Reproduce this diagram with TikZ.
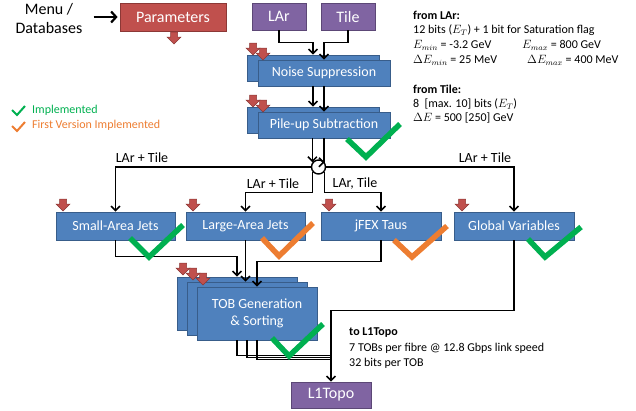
\documentclass[tikz,border=0pt]{standalone}
\usepackage{fontspec}
\setmainfont{Carlito}
\usetikzlibrary{arrows.meta,calc}
\definecolor{boxblue}{HTML}{4F81BD}
\definecolor{boxblueb}{HTML}{385D8A}
\definecolor{boxred}{HTML}{C0504D}
\definecolor{boxredb}{HTML}{8C3836}
\definecolor{boxpurp}{HTML}{8064A2}
\definecolor{boxpurpb}{HTML}{5C4776}
\definecolor{okgreen}{HTML}{00B050}
\definecolor{okorange}{HTML}{ED7D31}
\begin{document}
\begin{tikzpicture}[x=1pt,y=-1pt,
 bluebox/.style={draw=boxblueb, fill=boxblue, line width=0.8pt, text=white, font=\fontsize{14}{17}\selectfont, inner sep=0pt, align=center},
 redbox/.style={draw=boxredb, fill=boxred, line width=0.8pt, text=white, font=\fontsize{16}{19}\selectfont, inner sep=0pt},
 purpbox/.style={draw=boxpurpb, fill=boxpurp, line width=0.8pt, text=white, font=\fontsize{16}{19}\selectfont, inner sep=0pt},
 conn/.style={draw=black, line width=1.5pt, -{Straight Barb[length=4.5pt,width=9pt]}},
 plain/.style={draw=black, line width=1.5pt},
 chk/.style={line width=5.5pt, line cap=butt, line join=miter},
 lbl/.style={font=\fontsize{14}{17}\selectfont, inner sep=0pt},
 info/.style={font=\fontsize{12}{14}\selectfont, anchor=west, inner sep=0pt},
 redarrow/.pic={\filldraw[fill=boxred, draw=boxredb, line width=0.5pt] (-3.5,0) -- (3.5,0) -- (3.5,5) -- (7,5) -- (0,12) -- (-7,5) -- (-3.5,5) -- cycle;}
]
\useasboundingbox (0,0) rectangle (636,410);

% menu
\node[align=center, font=\fontsize{16}{19}\selectfont, inner sep=0pt] (menu) at (49,19) {Menu /\\Databases};
\node[redbox, minimum width=106pt, minimum height=28pt] (params) at (173,17) {Parameters};
\draw[line width=2.2pt, -{Straight Barb[length=5pt,width=11pt]}, shorten >=2pt] ([xshift=11pt]menu.east |- params.west) -- (params.west);

% sources
\node[purpbox, minimum width=54pt, minimum height=27pt] (lar) at (279,16.5) {LAr};
\node[purpbox, minimum width=54pt, minimum height=27pt] (tile) at (348,16.5) {Tile};

% processing stacks
\node[bluebox, minimum width=132pt, minimum height=26pt] (noiseB) at (313,68) {};
\node[bluebox, minimum width=132pt, minimum height=26pt] (noise) at (324,73) {Noise Suppression};
\node[bluebox, minimum width=132pt, minimum height=26pt] (pileupB) at (313,120) {};
\node[bluebox, minimum width=132pt, minimum height=26pt] (pileup) at (324,125) {Pile-up Subtraction};
\node[draw, circle, fill=white, line width=1.4pt, minimum size=14pt, inner sep=0pt] (circ) at (318.5,167) {};

% algorithms
\node[bluebox, minimum width=119pt, minimum height=28pt] (saj) at (115.5,226) {Small-Area Jets};
\node[bluebox, minimum width=119pt, minimum height=28pt] (laj) at (245.5,226) {Large-Area Jets};
\node[bluebox, minimum width=120pt, minimum height=28pt] (jfex) at (381,226) {jFEX Taus};
\node[bluebox, minimum width=120pt, minimum height=28pt] (glob) at (514,226) {Global Variables};

% TOB stack
\node[bluebox, minimum width=120pt, minimum height=53pt] (tobB) at (237,303.5) {};
\node[bluebox, minimum width=120pt, minimum height=53pt] (tobM) at (247,308.5) {};
\node[bluebox, minimum width=120pt, minimum height=53pt] (tob) at (257,313.5) {TOB Generation\\\& Sorting};

\node[purpbox, minimum width=80pt, minimum height=26pt] (l1topo) at (331,395) {L1Topo};

% connectors
\draw[conn] (lar.south) -- ++(0,12) -| (noiseB.north);
\draw[conn] (tile.south) -- ++(0,12) -| (noise.north);
\draw[conn] (noiseB.south |- noise.south) -- (pileupB.north);
\draw[conn] (noise.south) -- (pileup.north);
\draw[conn] (circ.142 |- pileup.south) -- (circ.142);
\draw[conn] (pileup.south) -- (pileup.south |- circ.38) -- (circ.38);
\draw[conn] (circ.west) -| (saj.north);
\draw[conn] (circ.east) -| (glob.north);
\draw[conn] (circ.218) |- ([yshift=19pt]laj.north) -- (laj.north);
\draw[conn] (circ.322) |- ([yshift=19pt]jfex.north) -- (jfex.north);
\draw[conn] (saj.south) |- ([yshift=20pt]tobB.north) -- (tobB.north);
\draw[conn] (laj.south) -- (laj.south |- tobM.north);
\draw[conn] (jfex.south) |- ([yshift=25pt]tob.north) -- (tob.north);
\draw[plain] (tobB.south |- tob.south) |- ([yshift=26pt]l1topo.north);
\draw[plain] (tobM.south |- tob.south) |- ([yshift=24pt]l1topo.north);
\draw[plain] (tob.south) |- ([yshift=22pt]l1topo.north);
\draw[conn] (glob.south) |- ([yshift=71pt]l1topo.north) -- (l1topo.north);

% labels
\node[lbl] (lab1) at (142,158) {LAr + Tile};
\node[lbl] (lab2) at (485,158) {LAr + Tile};
\node[lbl] (lab3) at (273,184) {LAr + Tile};
\node[lbl] (lab4) at (355,184) {LAr, Tile};

% red parameter arrows
\pic at (174,32) {redarrow};
\pic at (253,43) {redarrow};
\pic at (263,48) {redarrow};
\pic at (253,95) {redarrow};
\pic at (263,100) {redarrow};
\pic at (63,199) {redarrow};
\pic at (193,199) {redarrow};
\pic at (329,199) {redarrow};
\pic at (462,199) {redarrow};
\pic at (183,263) {redarrow};
\pic at (193,268) {redarrow};
\pic at (203,273) {redarrow};

% check marks
\draw[chk, okgreen] (347,139) -- (366,157) -- (400,124);
\draw[chk, okgreen] (130,238) -- (149,257) -- (183,225);
\draw[chk, okorange] (262,238) -- (279,256) -- (313,223);
\draw[chk, okorange] (394,240) -- (412,257) -- (447,226);
\draw[chk, okgreen] (528,239) -- (545,257) -- (581,227);
\draw[chk, okgreen] (272,338) -- (289,356) -- (323,324);

% legend
\draw[line width=2pt, okgreen] (12,110) -- (17,115) -- (25,106);
\draw[line width=2pt, okorange] (12,126) -- (17,131) -- (25,122);
\node[info, text=okgreen] (leg1) at (32,110) {Implemented};
\node[info, text=okorange] (leg2) at (32,125) {First Version Implemented};

% info text
\node[info] (t1) at (413,15) {\textbf{from LAr:}};
\node[info] (t2) at (413,30) {12 bits ($E_T$) + 1 bit for Saturation flag};
\node[info] (t3) at (413,45) {$E_{min}$ = -3.2 GeV};
\node[info] (t4) at (522,45) {$E_{max}$ = 800 GeV};
\node[info] (t5) at (413,60) {$\Delta E_{min}$ = 25 MeV};
\node[info] (t6) at (527,60) {$\Delta E_{max}$ = 400 MeV};
\node[info] (t7) at (413,89) {\textbf{from Tile:}};
\node[info] (t8) at (413,104) {8~~[max. 10] bits ($E_T$)};
\node[info] (t9) at (413,118) {$\Delta E$ = 500 [250] GeV};

\node[info] (u1) at (349,333) {\textbf{to L1Topo}};
\node[info] (u2) at (349,348) {7 TOBs per fibre @ 12.8 Gbps link speed};
\node[info] (u3) at (349,363) {32 bits per TOB};
\end{tikzpicture}
\end{document}
